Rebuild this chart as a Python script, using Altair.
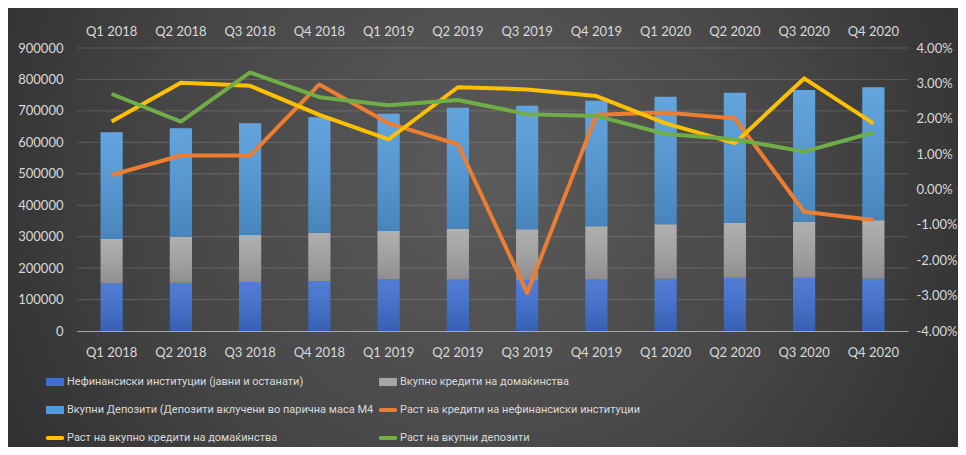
import altair as alt
import pandas as pd

quarters = ["Q1 2018", "Q2 2018", "Q3 2018", "Q4 2018", "Q1 2019", "Q2 2019",
            "Q3 2019", "Q4 2019", "Q1 2020", "Q2 2020", "Q3 2020", "Q4 2020"]

# stacked bar segments
nonfin = [151600, 153700, 155800, 159000, 164300, 163500, 162500, 163500, 166400, 169600, 169600, 166400]
households = [141000, 146300, 149500, 153700, 153700, 161900, 160900, 169400, 172800, 173900, 178100, 185600]
deposits = [339400, 344600, 355200, 366900, 373100, 384800, 393100, 399500, 405900, 414300, 418700, 423000]

# growth rates (%)
g_nonfin = [0.41, 0.96, 0.96, 2.97, 1.87, 1.28, -2.93, 2.11, 2.18, 2.01, -0.63, -0.86]
g_house = [1.92, 3.02, 2.93, 2.11, 1.42, 2.89, 2.83, 2.64, 1.87, 1.31, 3.14, 1.87]
g_dep = [2.70, 1.92, 3.31, 2.61, 2.38, 2.53, 2.13, 2.08, 1.57, 1.42, 1.07, 1.61]

left_ticks = [0, 100000, 200000, 300000, 400000, 500000, 600000, 700000, 800000, 900000]
right_ticks = [-4, -3, -2, -1, 0, 1, 2, 3, 4]

S1 = "Нефинансиски институции (јавни и останати)"
S2 = "Вкупно кредити на домаќинства"
S3 = "Вкупни Депозити (Депозити вклучени во парична маса M4"
S4 = "Раст на кредити на нефинансиски институции"
S5 = "Раст на вкупно кредити на домаќинства"
S6 = "Раст на вкупни депозити"

all_series = [S1, S2, S3, S4, S5, S6]
all_colors = ["#3d6fd0", "#a6a6a6", "#529ada", "#ED7D31", "#FFC000", "#70AD47"]
col2_series = [S2, S4, S6]
col2_colors = ["#a6a6a6", "#ED7D31", "#70AD47"]

bar_rows = []
for i, q in enumerate(quarters):
    for k, (s, vals) in enumerate([(S1, nonfin), (S2, households), (S3, deposits)]):
        bar_rows.append({"q": q, "series": s, "value": vals[i], "ord": k})
bars_df = pd.DataFrame(bar_rows)

line_rows = []
for s, vals in [(S4, g_nonfin), (S5, g_house), (S6, g_dep)]:
    for i, q in enumerate(quarters):
        line_rows.append({"q": q, "series": s, "pct": vals[i]})
lines_df = pd.DataFrame(line_rows)

grid_df = pd.DataFrame({"value": left_ticks[1:]})

W, H = 831, 283
PL, PT, PR, PB = 69, 40, 50, 116
LEGEND_FONT = "Roboto"

xscale = alt.Scale(domain=quarters, paddingInner=0.68, paddingOuter=0.34)
cscale = alt.Scale(domain=all_series, range=all_colors)
yleft = alt.Scale(domain=[0, 900000], nice=False, zero=True)

x_bottom = alt.Axis(orient="bottom", title=None, labelAngle=0, ticks=False, zindex=1,
                    domain=True, domainColor="#a6a6a6", labelPadding=15)
y_left = alt.Axis(orient="left", title=None, values=left_ticks, format="d", zindex=1,
                  grid=False, ticks=False, domain=False, labelPadding=14)

shape_sig = ("indexof(datum.value, 'Раст') == 0 ? "
             "'M-0.8,-0.22H0.8A0.22,0.22 0 0 1 0.8,0.22H-0.8A0.22,0.22 0 0 1 -0.8,-0.22Z' : "
             "'M-1,-0.45H1V0.45H-1Z'")

def legend_common(scale_name):
    return dict(
        title=None, orient="none", direction="vertical",
        symbolSize=324, rowPadding=14, labelOffset=3,
        symbolType=alt.ExprRef(expr=shape_sig),
        symbolFillColor=alt.ExprRef(expr="scale('%s', datum.value)" % scale_name),
        symbolStrokeWidth=0, symbolOpacity=1,
        labelFont=LEGEND_FONT, labelFontSize=11, labelColor="#d9d9d9",
        labelLimit=400, padding=0,
    )

bg = alt.Chart(pd.DataFrame({"a": [0]})).mark_rect(
    fill=alt.RadialGradient(
        gradient="radial",
        stops=[alt.GradientStop(color="#5b5b5b", offset=0),
               alt.GradientStop(color="#474747", offset=0.45),
               alt.GradientStop(color="#232323", offset=1)],
        x1=0.5, y1=0.45, r1=0, x2=0.5, y2=0.45, r2=0.72),
    clip=False,
).encode(
    x=alt.value(-PL), x2=alt.value(W + PR),
    y=alt.value(-PT), y2=alt.value(H + PB),
)

grid = alt.Chart(grid_df).mark_rule(color="#ffffff", opacity=0.16, strokeWidth=1).encode(
    y=alt.Y("value:Q", scale=yleft, axis=y_left),
)

bars = alt.Chart(bars_df).mark_bar().encode(
    x=alt.X("q:N", scale=xscale, sort=quarters, axis=x_bottom),
    y=alt.Y("value:Q", stack="zero", scale=yleft, axis=y_left),
    color=alt.Color("series:N", scale=cscale,
                    legend=alt.Legend(values=[S1, S3, S5], legendX=-31, legendY=325,
                                      **legend_common("color"))),
    order=alt.Order("ord:Q", sort="ascending"),
)

overlay = alt.Chart(bars_df).mark_bar(
    fill=alt.LinearGradient(
        gradient="linear",
        stops=[alt.GradientStop(color="rgba(255,255,255,0.10)", offset=0),
               alt.GradientStop(color="rgba(0,0,0,0.14)", offset=1)],
        x1=0, x2=0, y1=0, y2=1),
).encode(
    x=alt.X("q:N", scale=xscale, sort=quarters, axis=x_bottom),
    y=alt.Y("value:Q", stack="zero", scale=yleft, axis=y_left),
    order=alt.Order("ord:Q", sort="ascending"),
)

bar_layer = alt.layer(grid, bars, overlay)

lines = alt.Chart(lines_df).mark_line(strokeWidth=4, strokeJoin="round").encode(
    x=alt.X("q:N", scale=xscale, sort=quarters,
            axis=alt.Axis(orient="top", title=None, labelAngle=0, ticks=False, zindex=1,
                          domain=False, labelPadding=10)),
    y=alt.Y("pct:Q", scale=alt.Scale(domain=[-4, 4], nice=False, zero=False),
            axis=alt.Axis(orient="right", title=None, values=right_ticks, zindex=1,
                          labelExpr="(datum.value < 0 ? '-' : '') + format(abs(datum.value), '.2f') + '%'",
                          grid=False, ticks=False, domain=False, labelPadding=8)),
    color=alt.Color("series:N", scale=cscale, legend=None),
    detail="series:N",
)

dummy = alt.Chart(lines_df).transform_calculate(
    entry="datum.series"
).transform_filter("false").mark_point(filled=True, opacity=1).encode(
    fill=alt.Fill("entry:N", scale=alt.Scale(domain=col2_series, range=col2_colors),
                  legend=alt.Legend(legendX=302, legendY=325, **legend_common("fill"))),
)

chart = alt.layer(bg, bar_layer, lines, dummy).resolve_scale(
    y="independent"
).resolve_axis(
    x="independent"
).properties(
    width=W, height=H,
    autosize=alt.AutoSizeParams(type="none"),
    padding={"left": PL, "top": PT, "right": PR, "bottom": PB},
    background="#2b2b2b",
).configure_view(
    stroke=None
).configure_axis(
    labelFont="Lato", labelFontSize=13, labelColor="#d9d9d9",
)

chart.save("out.html", embed_options={"renderer": "svg", "actions": False})
